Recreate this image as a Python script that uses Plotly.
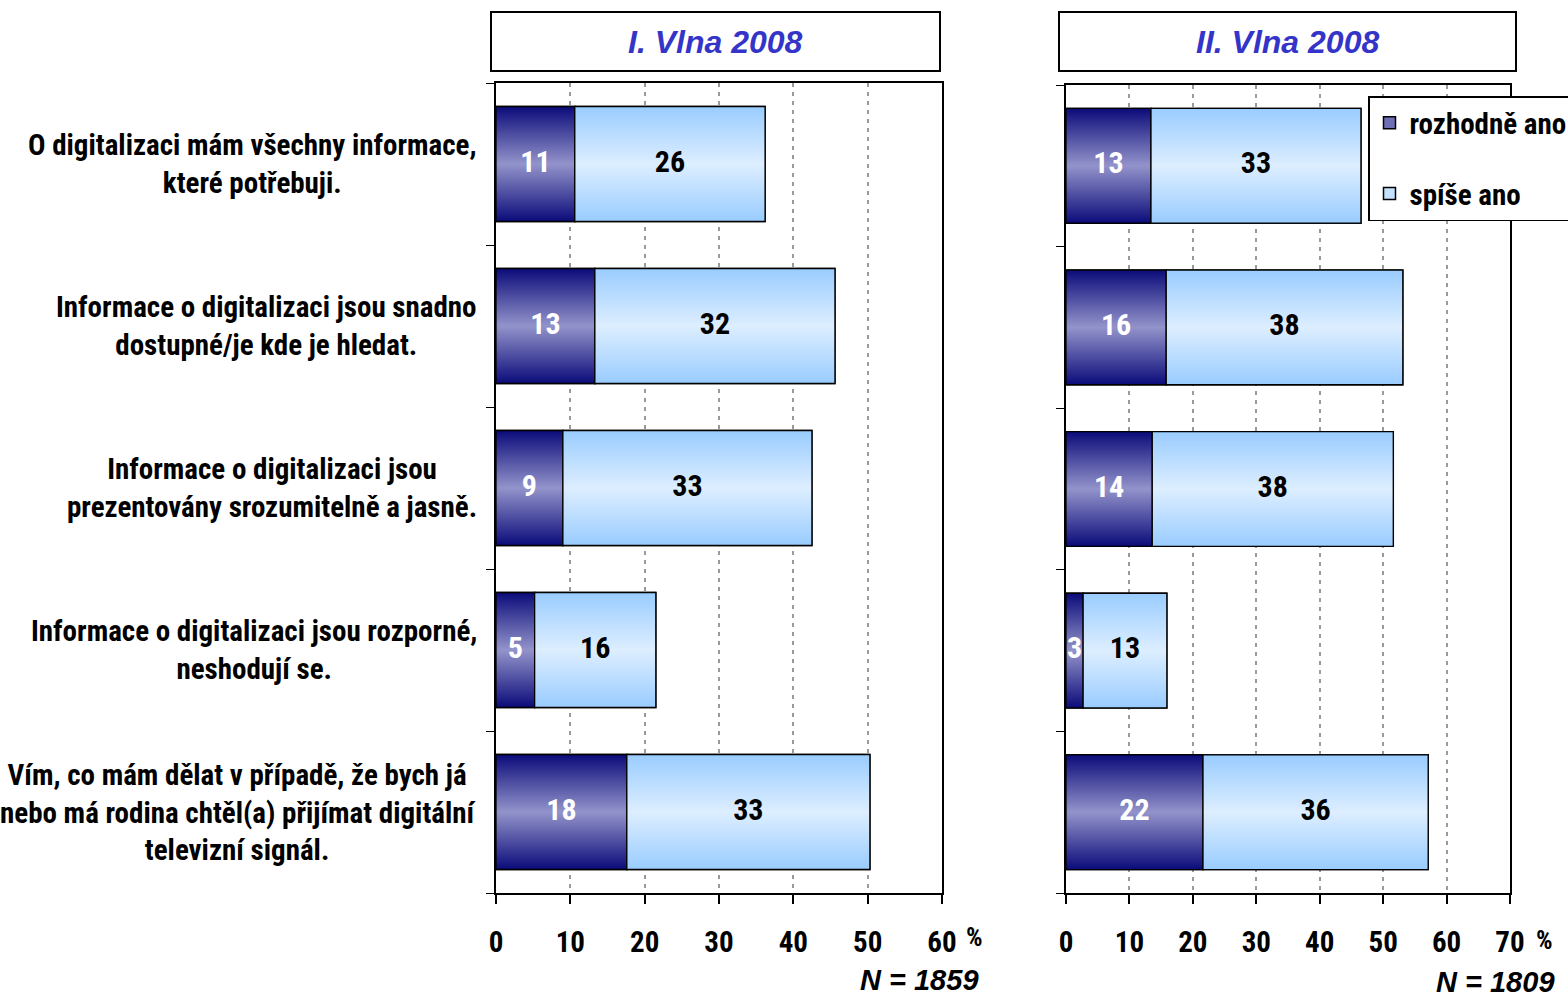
import plotly.graph_objects as go

W, H = 1568, 999

categories = [
    "O digitalizaci mám všechny informace,<br>které potřebuji.",
    "Informace o digitalizaci jsou snadno<br>dostupné/je kde je hledat.",
    "Informace o digitalizaci jsou<br>prezentovány srozumitelně a jasně.",
    "Informace o digitalizaci jsou rozporné,<br>neshodují se.",
    "Vím, co mám dělat v případě, že bych já<br>nebo má rodina chtěl(a) přijímat digitální<br>televizní signál.",
]
series_names = ["rozhodně ano", "spíše ano"]

# I. vlna 2008 and printed labels
w1_rozhodne = [10.6, 13.3, 9.0, 5.2, 17.6]
w1_spise = [25.6, 32.3, 33.5, 16.3, 32.7]
w1_rozhodne_lbl = [11, 13, 9, 5, 18]
w1_spise_lbl = [26, 32, 33, 16, 33]

# II. vlna 2008
w2_rozhodne = [13.4, 15.8, 13.6, 2.7, 21.6]
w2_spise = [33.1, 37.3, 38.0, 13.2, 35.5]
w2_rozhodne_lbl = [13, 16, 14, 3, 22]
w2_spise_lbl = [33, 38, 38, 13, 36]

panel_titles = ["I. Vlna 2008", "II. Vlna 2008"]
panel_n = ["N = 1859", "N = 1809"]
x_ticks_1 = [0, 10, 20, 30, 40, 50, 60]
x_ticks_2 = [0, 10, 20, 30, 40, 50, 60, 70]

NARROW = "Roboto Condensed, DejaVu Sans Condensed, Liberation Sans Narrow, Liberation Sans, sans-serif"
SANS = "Liberation Sans, Arial, sans-serif"
BAR_W = 0.71

DARK_EDGE, DARK_MID = "#0b0b7a", "#9393cb"
LIGHT_EDGE, LIGHT_MID = "#99ccff", "#ddeeff"
DARK_SOLID, LIGHT_SOLID = "#6f6fb5", "#c4e1ff"

fig = go.Figure()

def px_x(p):
    return p / W

def px_y(p):
    return 1 - p / H

panels = [
    ("x", "y", w1_rozhodne, w1_spise, w1_rozhodne_lbl, w1_spise_lbl),
    ("x2", "y2", w2_rozhodne, w2_spise, w2_rozhodne_lbl, w2_spise_lbl),
]

ypos = list(range(len(categories)))

for pi, (xa, ya, dark, light, dark_lbl, light_lbl) in enumerate(panels):
    fig.add_trace(go.Bar(
        y=ypos, x=dark, orientation="h", width=BAR_W, name=series_names[0],
        marker=dict(color=DARK_SOLID, line=dict(color="black", width=1.5)),
        xaxis=xa, yaxis=ya, showlegend=(pi == 1), legendgroup="a", hoverinfo="skip",
    ))
    fig.add_trace(go.Bar(
        y=ypos, x=light, base=dark, orientation="h", width=BAR_W, name=series_names[1],
        marker=dict(color=LIGHT_SOLID, line=dict(color="black", width=1.5)),
        xaxis=xa, yaxis=ya, showlegend=(pi == 1), legendgroup="b", hoverinfo="skip",
    ))
    for i, (d, l) in enumerate(zip(dark, light)):
        y0, y1 = i - BAR_W / 2, i + BAR_W / 2
        for (x0, x1, edge, mid) in [(0, d, DARK_EDGE, DARK_MID), (d, d + l, LIGHT_EDGE, LIGHT_MID)]:
            fig.add_trace(go.Scatter(
                x=[x0, x1, x1, x0, x0], y=[y0, y0, y1, y1, y0],
                mode="lines", fill="toself",
                fillgradient=dict(type="vertical",
                                  colorscale=[[0, edge], [0.5, mid], [1, edge]]),
                line=dict(color="black", width=1.3),
                xaxis=xa, yaxis=ya, showlegend=False, hoverinfo="skip",
            ))
    fig.add_trace(go.Scatter(
        x=[d / 2 for d in dark], y=ypos, mode="text",
        text=[str(v) for v in dark_lbl],
        textfont=dict(family=NARROW, size=30, color="white", weight="bold"),
        xaxis=xa, yaxis=ya, showlegend=False, hoverinfo="skip",
    ))
    fig.add_trace(go.Scatter(
        x=[d + l / 2 for d, l in zip(dark, light)], y=ypos, mode="text",
        text=[str(v) for v in light_lbl],
        textfont=dict(family=NARROW, size=30, color="black", weight="bold"),
        xaxis=xa, yaxis=ya, showlegend=False, hoverinfo="skip",
    ))

common_x = dict(
    showgrid=True, gridcolor="#9a9a9a", griddash="4px,5px", gridwidth=1.5,
    showline=True, linecolor="black", linewidth=1.5, mirror=True,
    ticks="outside", ticklen=9, tickcolor="black", tickwidth=1.5,
    tickfont=dict(family=NARROW, size=29, color="black", weight="bold"),
    ticklabelstandoff=13, zeroline=False, fixedrange=True,
)
common_y = dict(
    range=[len(categories) - 0.5, -0.5],
    tickvals=[i - 0.5 for i in range(len(categories) + 1)],
    ticks="outside", ticklen=8, tickcolor="black", tickwidth=1.2,
    showticklabels=False, showgrid=False, zeroline=False,
    showline=True, linecolor="black", linewidth=1.5, mirror=True, fixedrange=True,
)

fig.update_layout(
    width=W, height=H, autosize=False,
    margin=dict(l=0, r=0, t=0, b=0, autoexpand=False),
    paper_bgcolor="white", plot_bgcolor="white",
    barmode="overlay",
    xaxis=dict(domain=[px_x(496), px_x(942)], range=[0, 60], tickvals=x_ticks_1, anchor="y", **common_x),
    yaxis=dict(domain=[px_y(893), px_y(83)], anchor="x", **common_y),
    xaxis2=dict(domain=[px_x(1066), px_x(1510)], range=[0, 70], tickvals=x_ticks_2, anchor="y2", **common_x),
    yaxis2=dict(domain=[px_y(893), px_y(85)], anchor="x2", **common_y),
    legend=dict(
        x=px_x(1368), y=px_y(96), xanchor="left", yanchor="top",
        bordercolor="black", borderwidth=1.5, bgcolor="white",
        font=dict(family=NARROW, size=29, color="black", weight="bold"),
        traceorder="grouped", tracegroupgap=30, itemwidth=30,
    ),
    showlegend=True,
)

annotations = []
shapes = []
for i, c in enumerate(categories):
    annotations.append(dict(
        x=px_x(479), xref="paper", y=i, yref="y", text=c, showarrow=False,
        xanchor="right", yanchor="middle", align="center",
        font=dict(family=NARROW, size=29, color="black", weight="bold"),
    ))

boxes = [(491, 940), (1059, 1516)]
for (bx0, bx1), t in zip(boxes, panel_titles):
    shapes.append(dict(type="rect", xref="paper", yref="paper",
                       x0=px_x(bx0), x1=px_x(bx1), y0=px_y(71), y1=px_y(12),
                       line=dict(color="black", width=2), fillcolor="white"))
    annotations.append(dict(
        x=px_x((bx0 + bx1) / 2), y=px_y(42), xref="paper", yref="paper",
        text=t, showarrow=False, xanchor="center", yanchor="middle",
        font=dict(family=SANS, size=32, color="#3434c8", weight="bold", style="italic"),
    ))

for (px_pct, py_pct, px_n, py_n, n) in [(975, 937, 981, 980, panel_n[0]), (1544, 940, 1557, 982, panel_n[1])]:
    annotations.append(dict(
        x=px_x(px_pct), y=px_y(py_pct), xref="paper", yref="paper", text="%",
        showarrow=False, xanchor="center", yanchor="middle",
        font=dict(family=NARROW, size=26, color="black", weight="bold"),
    ))
    annotations.append(dict(
        x=px_x(px_n), y=px_y(py_n), xref="paper", yref="paper", text=n,
        showarrow=False, xanchor="right", yanchor="middle",
        font=dict(family=SANS, size=29, color="black", weight="bold", style="italic"),
    ))

fig.update_layout(annotations=annotations, shapes=shapes)

fig.write_html("out.html", config={"displayModeBar": False},
               post_script="document.body.style.margin='0';document.body.style.overflow='hidden';")
